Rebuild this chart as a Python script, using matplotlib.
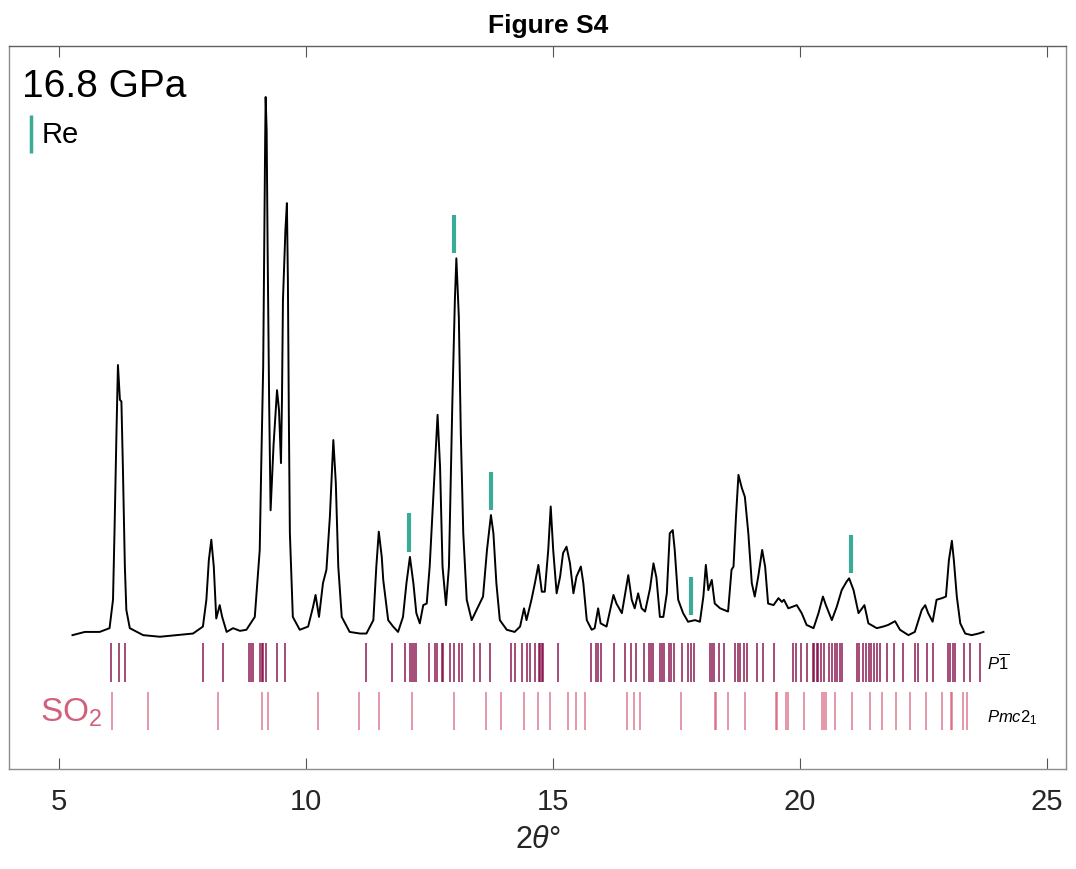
import numpy as np
import matplotlib
matplotlib.use("Agg")
import matplotlib.pyplot as plt

plt.rcParams['font.family'] = ['Liberation Sans', 'DejaVu Sans']
plt.rcParams['mathtext.fontset'] = 'custom'
plt.rcParams['mathtext.rm'] = 'Liberation Sans'
plt.rcParams['mathtext.it'] = 'Liberation Sans:italic'
plt.rcParams['mathtext.bf'] = 'Liberation Sans:bold'

# measured pattern at 16.8 GPa (2theta in degrees, intensity in a.u.)
two_theta = np.array([
    5.28, 5.53, 5.83, 6.03, 6.10, 6.13, 6.17, 6.20, 6.24, 6.27, 6.30, 6.34, 6.37, 6.44,
    6.71, 7.05, 7.38, 7.72, 7.92, 7.99, 8.04, 8.09, 8.14, 8.19, 8.26, 8.31, 8.40, 8.53,
    8.67, 8.80, 8.97, 9.07, 9.10, 9.14, 9.16, 9.18, 9.19, 9.21, 9.23, 9.26, 9.29, 9.35,
    9.42, 9.46, 9.50, 9.52, 9.54, 9.59, 9.62, 9.64, 9.66, 9.68, 9.74, 9.88, 10.05, 10.15,
    10.20, 10.27, 10.35, 10.42, 10.49, 10.56, 10.61, 10.66, 10.73, 10.89, 11.10,
    11.23, 11.37, 11.43, 11.48, 11.54, 11.57, 11.67, 11.77, 11.87, 11.97, 12.04, 12.11,
    12.18, 12.24, 12.31, 12.38, 12.45, 12.51, 12.58, 12.67, 12.72, 12.77, 12.84, 12.90,
    12.97, 13.02, 13.05, 13.10, 13.14, 13.19, 13.26, 13.36, 13.46, 13.59, 13.67, 13.75,
    13.80, 13.86, 13.93, 14.07, 14.23, 14.34, 14.42, 14.47, 14.57, 14.64, 14.71, 14.78,
    14.84, 14.91, 14.96, 15.01, 15.08, 15.15, 15.21, 15.28, 15.35, 15.42, 15.48, 15.57,
    15.62, 15.69, 15.79, 15.85, 15.92, 15.97, 16.09, 16.23, 16.29, 16.40, 16.53, 16.60,
    16.66, 16.73, 16.80, 16.87, 16.97, 17.04, 17.10, 17.17,
    17.24, 17.31, 17.37, 17.43, 17.47, 17.54, 17.64, 17.74, 17.88, 17.98, 18.05, 18.10,
    18.15, 18.22, 18.28, 18.39, 18.55, 18.62, 18.66, 18.71, 18.76, 18.83, 18.89, 18.96,
    19.03, 19.09, 19.16, 19.24, 19.30, 19.36, 19.47, 19.57, 19.64, 19.68, 19.77, 19.94,
    20.04, 20.14, 20.28, 20.38, 20.47, 20.53, 20.65, 20.75, 20.85, 20.95, 21.00, 21.09,
    21.19, 21.31, 21.39, 21.56, 21.69, 21.79, 21.93, 22.03, 22.20, 22.33, 22.47, 22.54,
    22.60, 22.69, 22.77, 22.88, 22.96, 23.02, 23.08, 23.12, 23.18, 23.25, 23.35, 23.48,
    23.62, 23.72])
intensity = np.array([
    -0.4, 0.2, 0.2, 0.9, 6.2, 18.7, 37.3, 50.0, 43.5, 43.2, 31.0, 12.4, 4.3, 0.9,
    -0.4, -0.7, -0.4, -0.1, 1.2, 6.2, 13.6, 17.4, 12.4, 2.7, 5.2, 3.0, 0.2, 0.9,
    0.4, 0.6, 3.0, 15.5, 31.0, 49.7, 71.5, 92.0, 100.0, 93.8, 71.5, 43.5, 22.9, 35.1,
    45.3, 41.6, 31.7, 43.5, 62.1, 75.2, 80.2, 65.9, 39.7, 18.7, 3.0, 0.6, 1.2, 4.9,
    7.1, 3.0, 9.3, 11.8, 21.7, 36.0, 28.0, 12.4, 3.0, 0.2, -0.1,
    -0.1, 2.4, 12.4, 18.9, 14.2, 9.9, 2.4, 1.2, 0.2, 3.0, 9.3, 14.2,
    9.3, 3.7, 1.8, 5.2, 5.5, 12.4, 24.8, 40.7, 31.0, 12.4, 5.2, 12.4,
    43.5, 62.1, 69.9, 59.0, 37.3, 18.6, 6.2, 2.4, 4.3, 6.8, 15.5, 22.0,
    18.6, 9.3, 2.4, 0.6, 0.2, 1.2, 4.6, 2.4, 6.2, 9.3, 12.7, 7.7,
    7.7, 15.5, 23.6, 15.5, 7.4, 10.5, 14.9, 16.1, 13.0, 7.4, 10.5, 12.4,
    9.3, 2.4, 0.6, 0.9, 4.6, 1.8, 1.2, 7.1, 5.5, 3.7, 10.8, 6.2,
    4.6, 7.4, 4.6, 4.0, 8.3, 13.0, 10.3, 3.0,
    3.0, 7.4, 18.6, 19.2, 15.5, 6.2, 3.7, 2.1, 2.4, 2.1, 6.8, 12.7,
    8.0, 9.9, 5.5, 4.6, 4.0, 11.8, 12.4, 21.7, 29.5, 27.0, 25.4, 18.6,
    9.3, 6.8, 10.5, 15.5, 12.4, 5.5, 5.2, 6.5, 5.8, 6.2, 4.6, 5.2,
    3.7, 1.5, 0.9, 3.7, 6.8, 5.2, 2.4, 4.9, 8.0, 9.6, 10.2, 8.0,
    3.7, 5.2, 1.8, 0.9, 1.2, 1.5, 2.2, 0.6, -0.4, 0.2, 4.3, 5.2,
    3.7, 2.1, 6.2, 6.5, 6.8, 13.6, 17.2, 13.6, 6.8, 1.8, -0.1, -0.4,
    -0.1, 0.2])

# Re reflections
re_peaks = [12.09, 13.01, 13.75, 17.80, 21.04]

# calculated reflections of SO2, P-1 phase
p1_ticks = [
    6.05, 6.23, 6.34, 7.92, 8.33, 8.85, 8.89, 8.93, 9.07, 9.11, 9.14, 9.19, 9.41, 9.58,
    11.23, 11.75, 12.02, 12.12, 12.15, 12.19, 12.24, 12.50, 12.62, 12.65, 12.75, 12.78,
    12.92, 13.01, 13.10, 13.17, 13.41, 13.52, 13.74, 14.15, 14.24, 14.38, 14.47, 14.55,
    14.64, 14.72, 14.75, 14.78, 14.80, 15.10, 15.77, 15.87, 15.92, 15.97, 16.24, 16.46,
    16.59, 16.68, 16.85, 16.95, 17.00, 17.04, 17.17, 17.22, 17.25, 17.35, 17.40, 17.45,
    17.62, 17.74, 17.79, 17.86, 18.18, 18.22, 18.27, 18.36, 18.46, 18.70, 18.75, 18.79,
    18.87, 18.94, 19.14, 19.26, 19.48, 19.86, 19.92, 20.02, 20.14, 20.26, 20.29, 20.34,
    20.38, 20.44, 20.49, 20.59, 20.65, 20.71, 20.76, 20.81, 20.86, 21.16, 21.21, 21.28,
    21.35, 21.40, 21.45, 21.50, 21.56, 21.63, 21.77, 21.91, 22.09, 22.34, 22.39, 22.58,
    22.70, 23.00, 23.05, 23.10, 23.15, 23.32, 23.44, 23.64]

# calculated reflections of SO2, Pmc2_1 phase
pmc_ticks = [
    6.07, 6.81, 8.22, 9.12, 9.24, 10.24, 11.07, 11.48, 12.16, 13.00, 13.64, 13.95, 14.41,
    14.70, 14.94, 15.30, 15.48, 15.65, 16.50, 16.64, 16.76, 17.60, 18.29, 18.31, 18.55,
    18.89, 19.51, 19.54, 19.73, 19.76, 20.09, 20.45, 20.50, 20.54, 20.71, 21.05, 21.42,
    21.66, 21.94, 22.24, 22.55, 22.89, 23.06, 23.09, 23.30, 23.38]

teal = '#3aab96'
p1_col = '#800040'
pmc_col = '#d2506e'

fig = plt.figure(figsize=(10.76, 8.69), dpi=100)
ax = fig.add_axes([0.0086, 0.1151, 0.9821, 0.8323])

ax.plot(two_theta, intensity, color='black', lw=1.4)

# Re markers sit just above the local maximum
for pos in re_peaks:
    near = intensity[np.abs(two_theta - pos) < 0.085]
    base = near.max() + 1.0
    ax.vlines(pos, base, base + 7.1, color=teal, lw=3)

ax.vlines(p1_ticks, -9.1, -1.9, color=p1_col, lw=1.4, alpha=0.7)
ax.vlines(pmc_ticks, -18.1, -11.0, color=pmc_col, lw=1.1, alpha=0.75)

ax.text(23.79, -6.9, r'$P\overline{1}$', fontsize=12, ha='left', va='baseline')
ax.text(23.79, -16.6, r'$Pmc2_1$', fontsize=12, ha='left', va='baseline')
ax.text(4.62, -16.6, r'SO$_2$', fontsize=24, color='#d2607a', ha='left', va='baseline')

ax.text(4.25, 100.0, '16.8 GPa', fontsize=28, ha='left', va='baseline')
ax.vlines(4.447, 89.6, 96.6, color=teal, lw=2.5)
ax.text(4.65, 91.4, 'Re', fontsize=21, ha='left', va='baseline')

ax.set_xlim(4.0, 25.39)
ax.set_ylim(-25.37, 109.57)
ax.set_xticks([5, 10, 15, 20, 25])
ax.set_yticks([])
ax.tick_params(axis='x', direction='in', length=8, width=0.8, color='#555555',
               labelsize=21, pad=14, top=True, labelcolor='#262626')
for s in ax.spines.values():
    s.set_color('#8c8c8c')
    s.set_linewidth(1.0)
ax.spines['top'].set_color('#606060')

ax.set_xlabel(r'2$\theta$°', fontsize=22, color='#262626', labelpad=6)
fig.text(0.509, 0.970, 'Figure S4', fontsize=19, weight='bold', ha='center', va='center')

fig.savefig('out.png', dpi=100)
